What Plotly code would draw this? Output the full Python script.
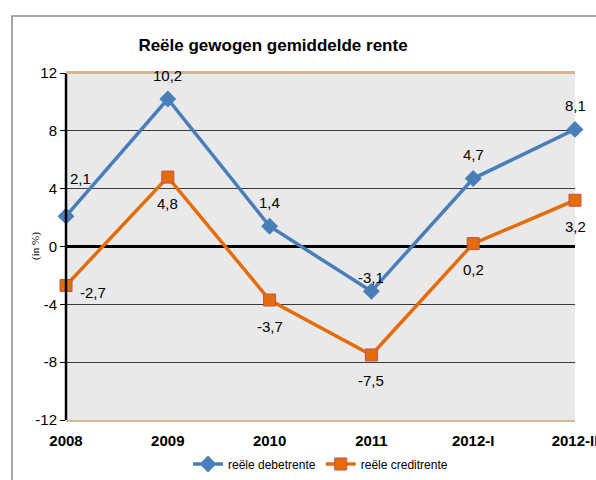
import plotly.graph_objects as go

categories = ["2008", "2009", "2010", "2011", "2012-I", "2012-II"]
debet = [2.1, 10.2, 1.4, -3.1, 4.7, 8.1]
credit = [-2.7, 4.8, -3.7, -7.5, 0.2, 3.2]
debet_labels = ["2,1", "10,2", "1,4", "-3,1", "4,7", "8,1"]
credit_labels = ["-2,7", "4,8", "-3,7", "-7,5", "0,2", "3,2"]
y_ticks = [-12, -8, -4, 0, 4, 8, 12]
y_ticktext = ["-12", "-8", "-4", "0", "4", "8", "12"]

blue = "#4A7EBB"
orange = "#E46C0A"

x_idx = list(range(len(categories)))
label_font = dict(family="Liberation Sans, Arial", size=15, color="#000000")

fig = go.Figure()
fig.add_trace(go.Scatter(
    x=x_idx, y=debet, mode="lines+markers", name="reële debetrente",
    line=dict(color=blue, width=3.5),
    marker=dict(symbol="diamond", size=13, color=blue),
    cliponaxis=False,
))
fig.add_trace(go.Scatter(
    x=x_idx, y=credit, mode="lines+markers", name="reële creditrente",
    line=dict(color=orange, width=3.5),
    marker=dict(symbol="square", size=12, color=orange, line=dict(color="#C0504D", width=1)),
    cliponaxis=False,
))

debet_yshift = [38, 24, 24, 14, 24, 24]
debet_xshift = [14, 0, 0, 0, 0, 0]
annotations = []
for i, (v, t) in enumerate(zip(debet, debet_labels)):
    annotations.append(dict(x=i, y=v, text=t, showarrow=False, xref="x", yref="y",
                            yshift=debet_yshift[i], xshift=debet_xshift[i], font=label_font))
for i, (v, t) in enumerate(zip(credit, credit_labels)):
    if i == 0:
        annotations.append(dict(x=i, y=v, text=t, showarrow=False, xref="x", yref="y",
                                yshift=-7, xshift=27, font=label_font))
    else:
        annotations.append(dict(x=i, y=v, text=t, showarrow=False, xref="x", yref="y",
                                yshift=-26, font=label_font))
annotations.append(dict(text="(in %)", xref="paper", yref="paper", x=(27 - 66) / 509, y=0.5,
                        textangle=-90, showarrow=False,
                        font=dict(family="Liberation Serif, Times New Roman", size=11, color="#000000")))

# outer chart frame
fig.add_shape(type="rect", xref="paper", yref="paper",
              x0=(12 - 66) / 509, x1=(640 - 66) / 509,
              y0=(420 - 490) / 347, y1=(420 - 16) / 347,
              line=dict(color="#8C8C8C", width=1.5), fillcolor="rgba(0,0,0,0)", layer="below")

fig.update_layout(
    width=596, height=480,
    margin=dict(l=66, r=21, t=73, b=60, autoexpand=False),
    paper_bgcolor="#FFFFFF",
    plot_bgcolor="#E9E9E9",
    title=dict(text="<b>Reële gewogen gemiddelde rente</b>", x=273 / 596, xanchor="center",
               y=1 - 45 / 480, yanchor="middle",
               font=dict(family="Liberation Sans, Arial", size=17, color="#000000")),
    showlegend=True,
    legend=dict(orientation="h", x=0.5, xanchor="center", y=-0.085, yanchor="top",
                font=dict(family="Liberation Sans, Arial", size=12, color="#000000"),
                bgcolor="rgba(0,0,0,0)", tracegroupgap=0),
    xaxis=dict(
        tickmode="array", tickvals=x_idx, ticktext=["<b>%s</b>" % c for c in categories],
        range=[0, 5], showgrid=False, zeroline=False, automargin=False,
        showline=True, linecolor="#D9B48F", linewidth=2, mirror=True,
        tickfont=dict(family="Liberation Sans, Arial", size=15, color="#000000"),
        ticks="", ticklen=0, ticklabeloverflow="allow", ticklabelstandoff=6,
    ),
    yaxis=dict(
        tickmode="array", tickvals=y_ticks, ticktext=y_ticktext, range=[-12, 12],
        showgrid=True, gridcolor="#3A3A3A", gridwidth=1, automargin=False,
        zeroline=True, zerolinecolor="#000000", zerolinewidth=2.5,
        showline=False,
        tickfont=dict(family="Liberation Sans, Arial", size=15, color="#000000"),
        ticks="outside", ticklen=5, tickcolor="#000000",
    ),
    annotations=annotations,
)

# left black axis line
fig.add_shape(type="line", xref="paper", yref="paper", x0=0, x1=0, y0=0, y1=1,
              line=dict(color="#000000", width=2.5))
# top tan border
fig.add_shape(type="line", xref="paper", yref="paper", x0=0, x1=1, y0=1, y1=1,
              line=dict(color="#D9B48F", width=2))

fig.write_html("out.html", config={"displayModeBar": False},
               post_script="document.body.style.margin='0';document.body.style.overflow='hidden';")
